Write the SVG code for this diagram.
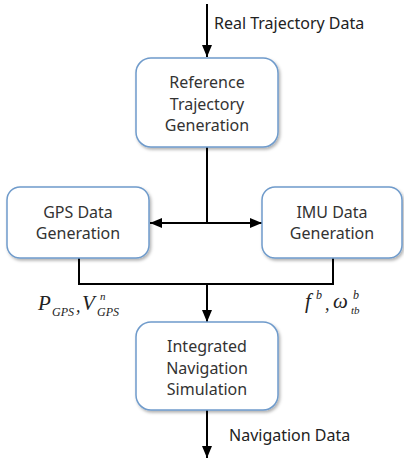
<svg xmlns="http://www.w3.org/2000/svg" width="404" height="460" viewBox="0 0 404 460">
<defs>
<filter id="sh" x="-10%" y="-10%" width="125%" height="130%">
<feDropShadow dx="1.5" dy="2" stdDeviation="1.5" flood-color="#000" flood-opacity="0.3"/>
</filter>
<marker id="ah" viewBox="0 0 12 10" refX="12" refY="5" markerWidth="12" markerHeight="10" markerUnits="userSpaceOnUse" orient="auto">
<path d="M0,0 L12,5 L0,10 Z" fill="#000"/>
</marker>
<style>
.box{fill:#fff;stroke:#6f9bcb;stroke-width:1.5;filter:url(#sh)}
.t{font-family:"Noto Sans","Open Sans",sans-serif;font-size:16px;fill:#333;text-anchor:middle}
.l{font-family:"Noto Sans","Open Sans",sans-serif;font-size:16px;fill:#222}
.m{font-family:"Liberation Serif","Times New Roman",serif;font-style:italic;fill:#222}
.c{fill:none;stroke:#000;stroke-width:2}
</style>
</defs>
<g id="connectors">
<line class="c" x1="207" y1="4" x2="207" y2="57" marker-end="url(#ah)"/>
<line class="c" x1="207" y1="147" x2="207" y2="223"/>
<line class="c" x1="207" y1="223" x2="150" y2="223" marker-end="url(#ah)"/>
<line class="c" x1="207" y1="223" x2="262" y2="223" marker-end="url(#ah)"/>
<polyline class="c" points="79,258 79,284 333,284 333,258"/>
<line class="c" x1="207" y1="284" x2="207" y2="322" marker-end="url(#ah)"/>
<line class="c" x1="207" y1="410" x2="207" y2="458" marker-end="url(#ah)"/>
<text class="l" x="214" y="29">Real Trajectory Data</text>
<text class="l" x="229" y="441">Navigation Data</text>
<text class="m" x="38" y="310" font-size="21">P</text>
<text class="m" x="52" y="316" font-size="12">GPS</text>
<text class="m" x="76" y="312" font-size="18">,</text>
<text class="m" x="82" y="310" font-size="21">V</text>
<text class="m" x="100" y="300" font-size="11">n</text>
<text class="m" x="97" y="316" font-size="12">GPS</text>
<text class="m" x="305" y="308" font-size="21">f</text>
<text class="m" x="316" y="299" font-size="12">b</text>
<text class="m" x="325" y="310" font-size="18">,</text>
<text class="m" x="333" y="308" font-size="21">ω</text>
<text class="m" x="353" y="299" font-size="12">b</text>
<text class="m" x="351" y="314" font-size="11">tb</text>
</g>
<g id="ref">
<rect class="box" x="136" y="58" width="142" height="89" rx="15"/>
<text class="t" x="207" y="88">Reference</text>
<text class="t" x="207" y="110">Trajectory</text>
<text class="t" x="207" y="131">Generation</text>
</g>
<g id="gps">
<rect class="box" x="7" y="187" width="142" height="71" rx="13"/>
<text class="t" x="78" y="218">GPS Data</text>
<text class="t" x="78" y="239">Generation</text>
</g>
<g id="imu">
<rect class="box" x="262" y="187" width="140" height="71" rx="13"/>
<text class="t" x="332" y="218">IMU Data</text>
<text class="t" x="332" y="239">Generation</text>
</g>
<g id="ins">
<rect class="box" x="136" y="322" width="142" height="88" rx="15"/>
<text class="t" x="207" y="352">Integrated</text>
<text class="t" x="207" y="374">Navigation</text>
<text class="t" x="207" y="395">Simulation</text>
</g>
</svg>
